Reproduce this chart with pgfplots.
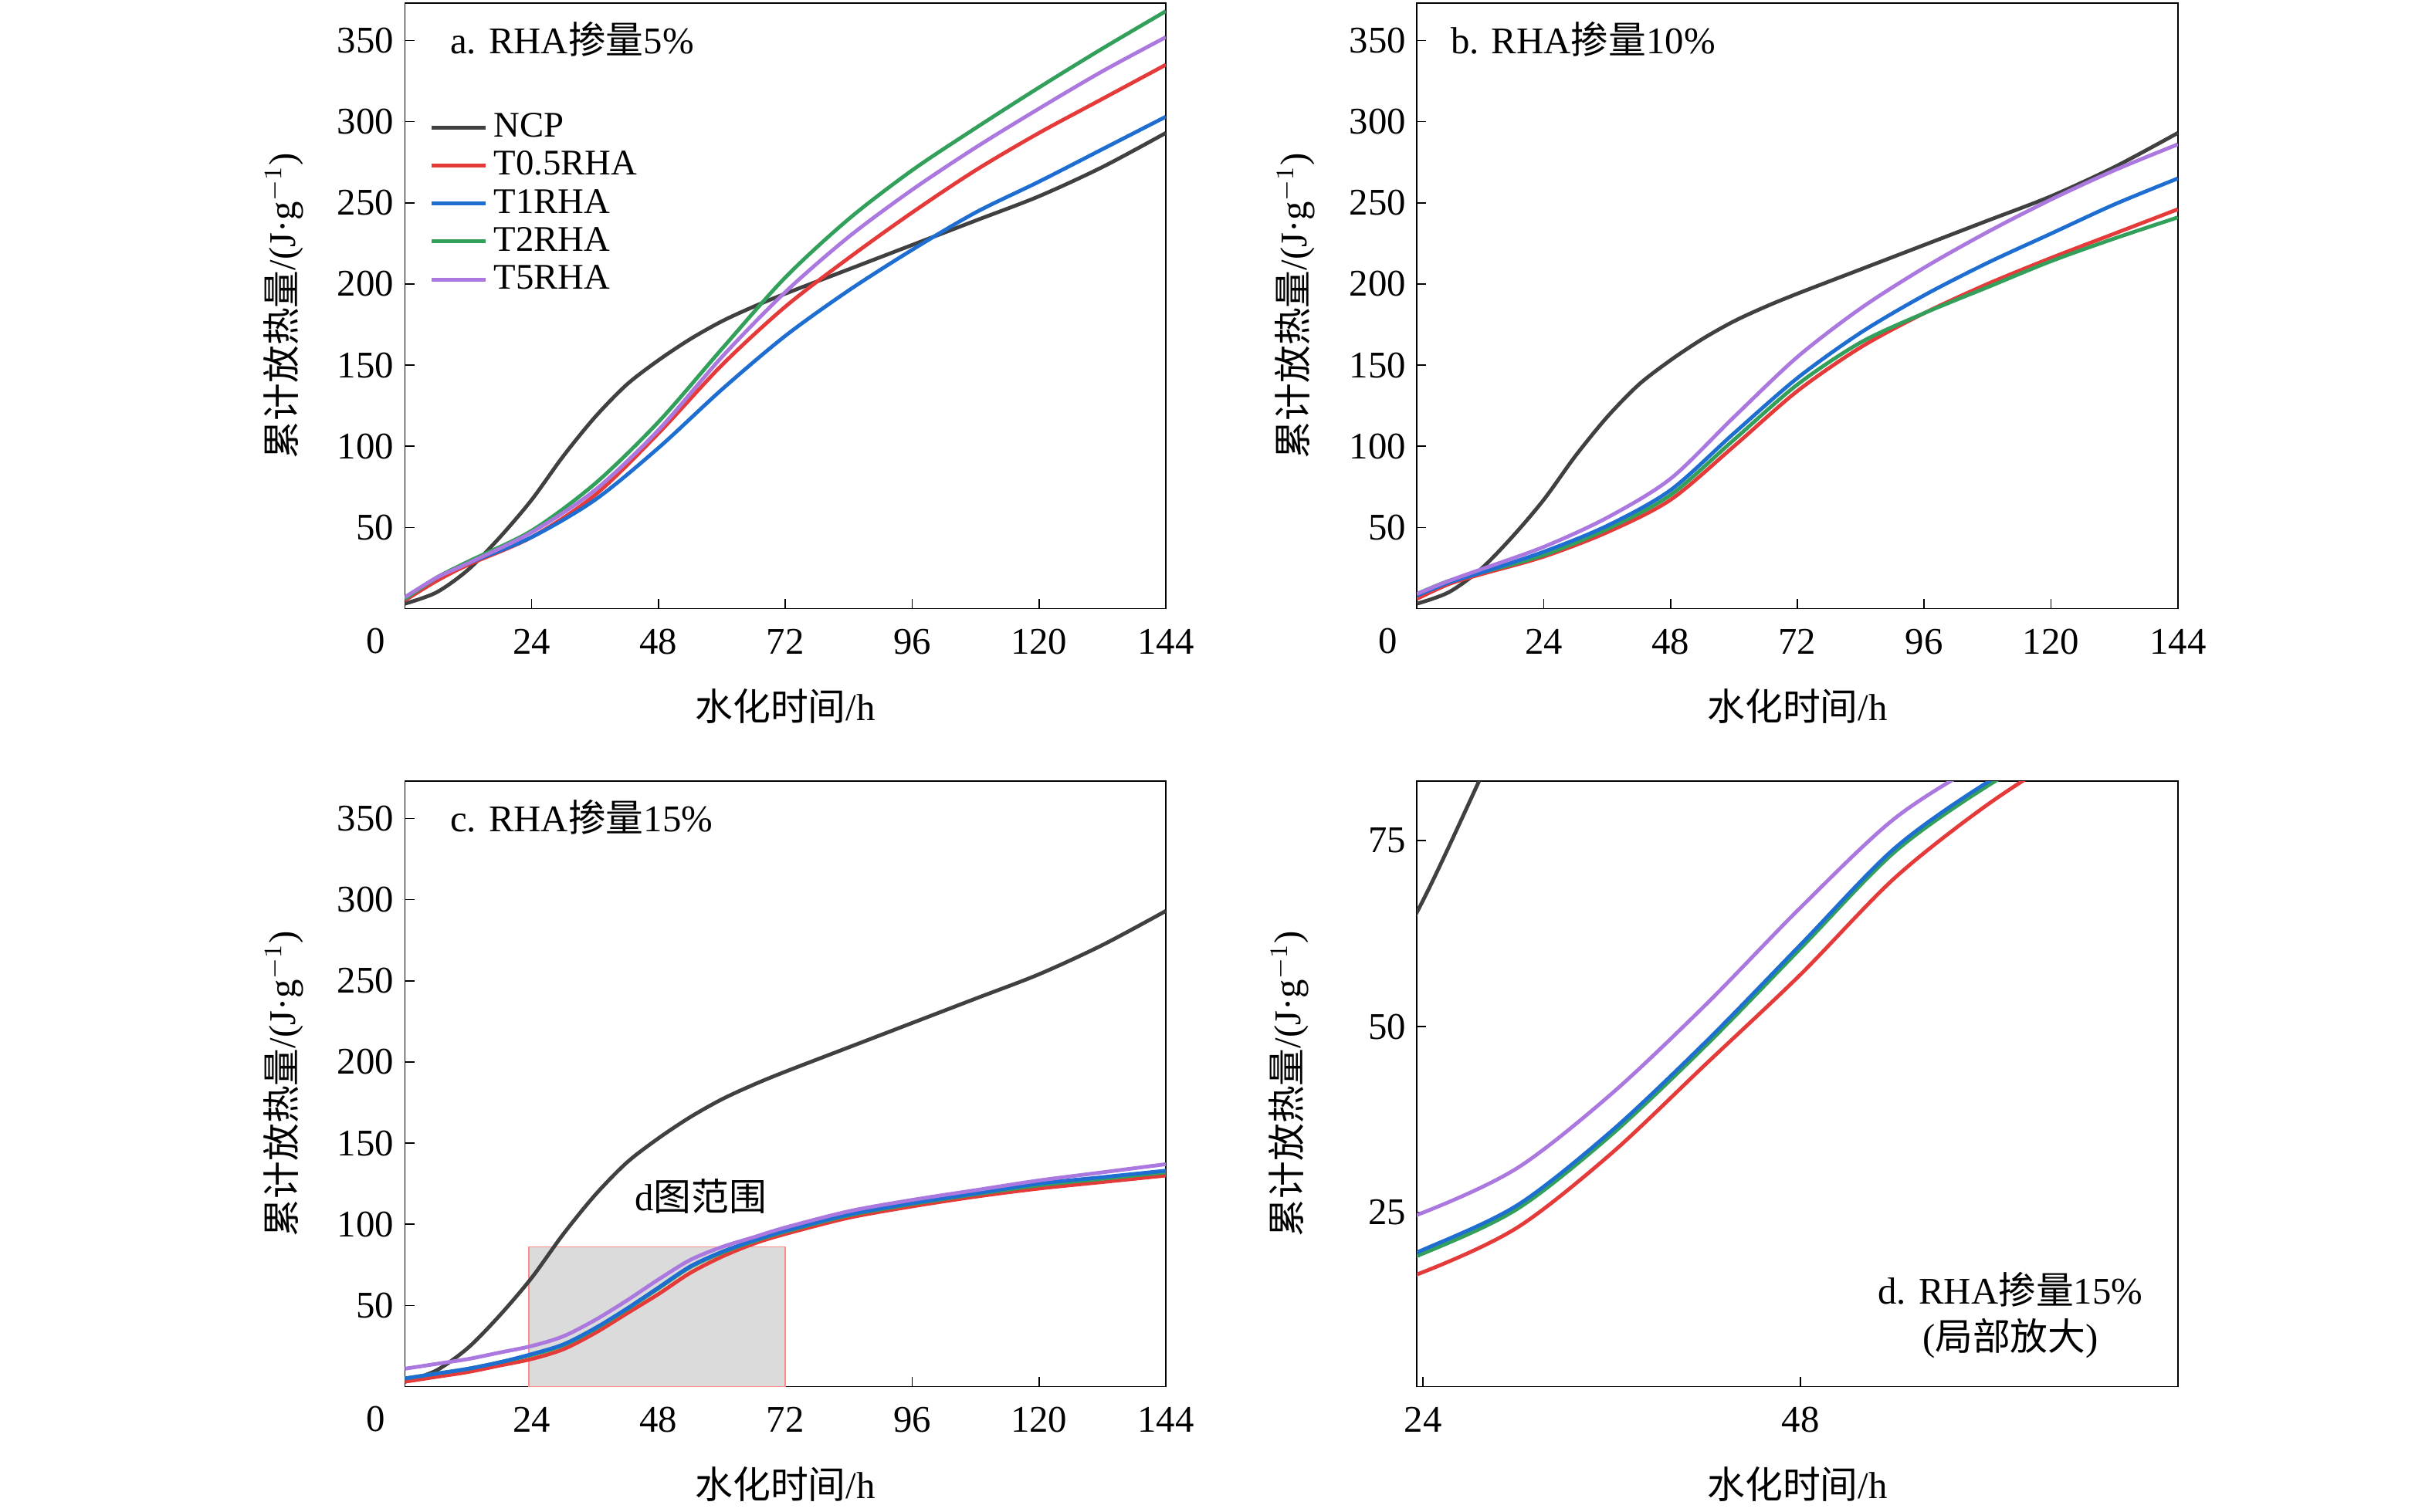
\documentclass[border=0pt]{standalone}
\usepackage{pgfplots}
\pgfplotsset{compat=1.18}
\usepackage{fontspec}
\setmainfont{Liberation Serif}
\newfontfamily\cjk{Noto Sans CJK SC}
\definecolor{cN}{RGB}{64,64,64}
\definecolor{cR}{RGB}{228,58,58}
\definecolor{cB}{RGB}{30,110,210}
\definecolor{cG}{RGB}{50,160,90}
\definecolor{cP}{RGB}{170,120,222}
\pgfplotstableread{
x y
0 3
6 10
12 24
18 44
24 67
30 94
36 118
42 138
48 153
54 166
60 177
66 186
72 194
84 209
96 224
108 239
120 254
132 272
144 293
}\ncp
\pgfplotstableread{
x r b g p
0 5 6 6 7
6 17 19 19 19
12 27 28 29 28
24 44 44 48 47
36 70 67 77 73
48 108 99 115 110
60 150 135 160 155
72 186 168 204 195
84 216 196 240 229
96 244 221 270 258
108 270 244 296 284
120 293 263 321 308
132 314 283 345 331
144 335 303 368 352
}\pa
\pgfplotstableread{
x r b g p
0 6 8 9 9
6 15 16 17 17
12 21 22 22 24
24 32 35 33 38
36 47 51 49 56
48 67 73 70 80
60 100 108 104 118
72 134 142 138 155
84 161 170 164 185
96 182 193 182 210
108 200 213 198 232
120 216 231 214 252
132 231 249 228 270
144 246 265 241 286
}\pb
\pgfplotstableread{
x r b g p
0 3 5 5 11
6 6 8 8 14
12 9 11 11 17
18 13 15 15 21
24 17 20 19.5 25
30 23 26 25.5 31
36 33 36 35.5 41
42 45 48 47.5 53
48 57 61 60.5 66
54 70 74 73.5 78
60 80 83 82.5 86
66 88 90 89.5 92
72 94 96 95.5 98
84 104 106 105.5 108
96 111 113 112.5 115
108 117 119 118.5 121
120 122 125 124 127
132 126 129 128 132
144 130 133 132 137
}\pc
\pgfplotsset{
 every axis/.style={scale only axis, width=242.5pt, height=193pt,
  anchor=south west, font=\fontsize{12}{14}\selectfont,
  /pgf/number format/assume math mode=true,
  tick align=inside, major tick length=3pt,
  xtick pos=bottom, ytick pos=left,
  every tick/.style={black,thin},
  xticklabel style={yshift=-3pt},
  xlabel={{\cjk 水化时间}/h},
  ylabel={{\cjk 累计放热量}/(J·g$^{-1}$)},
  xlabel style={yshift=-4pt},
  ylabel style={yshift=4pt},
  every axis plot/.style={line width=1.2pt,smooth},
 },
 full/.style={xmin=0,xmax=144,ymin=0,ymax=373,xtick={24,48,72,96,120,144},ytick={50,100,...,350},
  after end axis/.code={\node[anchor=north east,inner sep=0pt,font=\fontsize{12}{14}\selectfont] at (rel axis cs:0,0) [xshift=-6pt,yshift=-6pt] {0};}},
}
\begin{document}
\begin{tikzpicture}[x=1pt,y=1pt]
\path (0,0) rectangle (775pt,477.5pt);
\begin{axis}[full, at={(129pt,283.5pt)},
 legend style={draw=none,fill=none,at={(0.02,0.84)},anchor=north west,font=\fontsize{11.5}{12}\selectfont,row sep=-1pt},
 legend cell align=left]
\addplot[cN] table[x=x,y=y]{\ncp};
\addplot[cR] table[x=x,y=r]{\pa};
\addplot[cB] table[x=x,y=b]{\pa};
\addplot[cG] table[x=x,y=g]{\pa};
\addplot[cP] table[x=x,y=p]{\pa};
\legend{NCP,T0.5RHA,T1RHA,T2RHA,T5RHA}
\node[anchor=west] at (rel axis cs:0.045,0.94) {a. RHA{\cjk 掺量}5\%};
\end{axis}
\begin{axis}[full, at={(451.5pt,283.5pt)}]
\addplot[cN] table[x=x,y=y]{\ncp};
\addplot[cR] table[x=x,y=r]{\pb};
\addplot[cG] table[x=x,y=g]{\pb};
\addplot[cB] table[x=x,y=b]{\pb};
\addplot[cP] table[x=x,y=p]{\pb};
\node[anchor=west] at (rel axis cs:0.03,0.94) {b. RHA{\cjk 掺量}10\%};
\end{axis}
\begin{axis}[full, at={(129pt,35.5pt)}]
\fill[gray!28,draw=red!45] (axis cs:23.5,0) rectangle (axis cs:72,86);
\addplot[cN] table[x=x,y=y]{\ncp};
\addplot[cR] table[x=x,y=r]{\pc};
\addplot[cG] table[x=x,y=g]{\pc};
\addplot[cB] table[x=x,y=b]{\pc};
\addplot[cP] table[x=x,y=p]{\pc};
\node at (axis cs:56,117) {d{\cjk 图范围}};
\node[anchor=west] at (rel axis cs:0.045,0.94) {c. RHA{\cjk 掺量}15\%};
\end{axis}
\begin{axis}[at={(451.5pt,35.5pt)}, xmin=23.6,xmax=72,ymin=1.6,ymax=83,xtick={24,48},ytick={25,50,75},
 ylabel style={yshift=8pt}]
\addplot[cN] table[x=x,y=y]{\ncp};
\addplot[cR] table[x=x,y=r]{\pc};
\addplot[cG] table[x=x,y=g]{\pc};
\addplot[cB] table[x=x,y=b]{\pc};
\addplot[cP] table[x=x,y=p]{\pc};
\node at (rel axis cs:0.78,0.16) {d. RHA{\cjk 掺量}15\%};
\node at (rel axis cs:0.78,0.08) {({\cjk 局部放大})};
\end{axis}
\end{tikzpicture}
\end{document}
